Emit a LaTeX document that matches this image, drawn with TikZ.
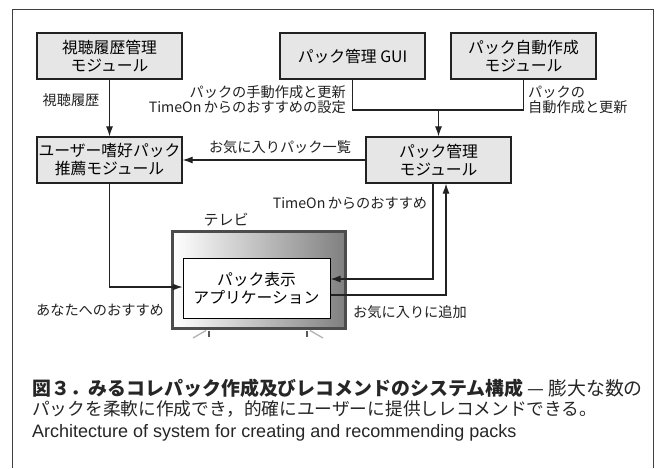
\documentclass[tikz,border=0pt]{standalone}
\usepackage{fontspec}
\setmainfont{Noto Sans CJK JP}
\newfontfamily\enfont{Liberation Sans}
\usetikzlibrary{arrows.meta}
\definecolor{boxfill}{HTML}{E6E6E6}
\definecolor{linec}{HTML}{222222}
\tikzset{
  modbox/.style={draw=linec, line width=1.2pt, fill=boxfill, minimum width=145pt, minimum height=46pt, align=center, inner sep=0pt, font=\fontsize{15.8}{18}\selectfont},
  conn/.style={draw=linec, line width=1.1pt},
  arr/.style={conn, -{Latex[length=10pt,width=7pt]}},
  lbl/.style={inner sep=0pt, font=\fontsize{14.2}{15}\selectfont, text=linec},
}
\begin{document}
\begin{tikzpicture}[x=1pt,y=-1pt]
\useasboundingbox (0,0) rectangle (660,468);
\fill[white] (0,0) rectangle (660,468);
% frame
\draw[draw=black!75, line width=1pt] (12,468) -- (12,10) -- (653,10) -- (653,468);
% modules
\node[modbox] (rireki) at (109.5,56) {視聴履歴管理\\モジュール};
\node[modbox] (gui) at (352.5,56) {パック管理 GUI};
\node[modbox] (auto) at (523.5,56) {パック自動作成\\モジュール};
\node[modbox] (user) at (109.5,160) {ユーザー嗜好パック\\推薦モジュール};
\node[modbox] (mgr) at (438.5,160) {パック管理\\モジュール};
% TV
\node[draw=black!70, line width=3pt, left color=white, right color=black!50, minimum width=173pt, minimum height=97pt, inner sep=0pt] (tv) at (259,280) {};
\node[draw=black, line width=1pt, fill=white, minimum width=147pt, minimum height=60pt, inner sep=0pt, align=center, font=\fontsize{15.8}{18}\selectfont] (app) at (256.5,288) {パック表示\\アプリケーション};
\node[lbl, font=\fontsize{15}{16}\selectfont] (tvl) at (226,220) {テレビ};
% stand
\draw[black!30, line width=1.3pt] (193,338) -- (206,330.5);
\draw[black!30, line width=1.3pt] (310,330.5) -- (323,338);
\draw[black!65, line width=2pt] (209,331) -- (209,337);
\draw[black!65, line width=2pt] (307,331) -- (307,337);
% connectors
\draw[arr] (rireki) -- (user);
\coordinate (j) at (438.5,110);
\draw[conn] (gui.south) |- (j);
\draw[conn] (auto.south) |- (j);
\draw[arr] (j) -- (mgr.north);
\draw[arr] (mgr.west) -- (user.east);
\draw[arr] (user.south) |- ([yshift=1pt]app.west);
\draw[arr] ([xshift=-5.5pt]mgr.south) |- ([yshift=9pt]app.east);
\draw[arr] ([yshift=-7pt]app.east) -| ([xshift=7.5pt]mgr.south);
% labels
\node[lbl] (l1) at (71,100) {視聴履歴};
\node[lbl, anchor=east, align=right] (l2) at (346,99.5) {パックの手動作成と更新\\TimeOn\,からのおすすめの設定};
\node[lbl, anchor=west, align=left] (l3) at (528,99.5) {パックの\\自動作成と更新};
\node[lbl] (l4) at (280,147) {お気に入りパック一覧};
\node[lbl] (l5) at (100,310) {あなたへのおすすめ};
\node[lbl] (l6) at (350,203) {TimeOn\,からのおすすめ};
\node[lbl] (l7) at (410,312) {お気に入りに追加};
% caption
\node[inner sep=0pt, anchor=west, font=\fontsize{18.9}{20}\selectfont, text=black!85] (c1) at (32,388) {\bfseries 図３．みるコレパック作成及びレコメンドのシステム構成\mdseries\ — 膨大な数の};
\node[inner sep=0pt, anchor=west, font=\fontsize{17.7}{20}\selectfont, text=black!85] (c2) at (32,408.5) {パックを柔軟に作成でき，的確にユーザーに提供しレコメンドできる。};
\node[inner sep=0pt, anchor=west, font=\enfont\fontsize{18}{20}\selectfont, text=black!85] (c3) at (32,433) {Architecture of system for creating and recommending packs};
\end{tikzpicture}
\end{document}
